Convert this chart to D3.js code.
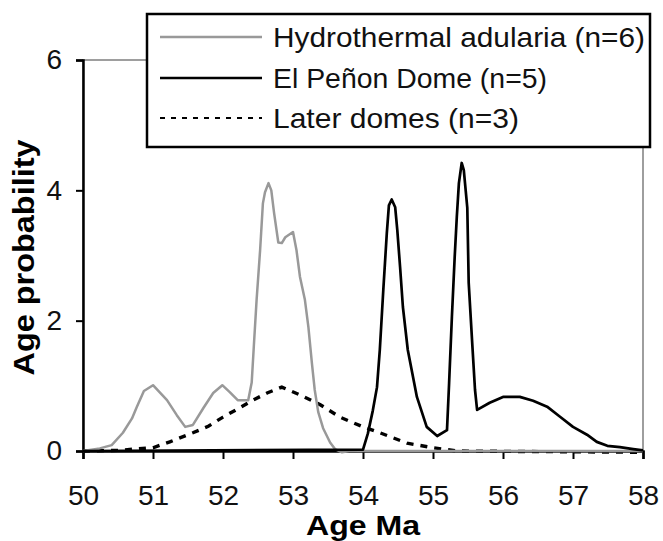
<!DOCTYPE html>
<html>
<head>
<meta charset="utf-8">
<script src="https://cdn.jsdelivr.net/npm/d3@7"></script>
<style>
  html, body { margin: 0; padding: 0; background: #fff; }
  svg { display: block; font-family: "Liberation Sans", Arial, sans-serif; }
</style>
</head>
<body>
<svg id="chart" width="663" height="541"></svg>
<script>
// x ticks / y ticks
const xTicks = [50, 51, 52, 53, 54, 55, 56, 57, 58];
const yTicks = [0, 2, 4, 6];

// Hydrothermal adularia (n=6) — [age Ma, probability]
const adularia = [
  [50.0, 0], [50.24, 0.04], [50.41, 0.09], [50.57, 0.28], [50.7, 0.5], [50.77, 0.68],
  [50.87, 0.92], [51.0, 1.01], [51.2, 0.78], [51.34, 0.55], [51.46, 0.37], [51.57, 0.4],
  [51.72, 0.66], [51.86, 0.89], [51.99, 1.01], [52.1, 0.9], [52.21, 0.78], [52.36, 0.78],
  [52.41, 1.05], [52.44, 1.6], [52.48, 2.32], [52.53, 3.08], [52.57, 3.8], [52.6, 3.97],
  [52.65, 4.11], [52.69, 4.0], [52.73, 3.65], [52.79, 3.2], [52.84, 3.19], [52.89, 3.28],
  [53.0, 3.36], [53.05, 3.08], [53.1, 2.67], [53.17, 2.32], [53.22, 1.9], [53.27, 1.35],
  [53.31, 0.94], [53.36, 0.6], [53.43, 0.35], [53.53, 0.13], [53.6, 0.03], [53.7, -0.02],
  [53.8, 0], [58.0, 0]
];

// El Peñon Dome (n=5)
const elPenon = [
  [50.0, 0], [54.0, 0.02], [54.07, 0.27], [54.14, 0.62], [54.2, 0.98], [54.24, 1.55],
  [54.29, 2.47], [54.34, 3.34], [54.37, 3.77], [54.41, 3.86], [54.46, 3.74], [54.49, 3.39],
  [54.53, 2.82], [54.57, 2.21], [54.64, 1.55], [54.77, 0.83], [54.91, 0.37], [55.06, 0.23],
  [55.2, 0.32], [55.23, 1.04], [55.27, 2.06], [55.31, 2.98], [55.34, 3.59], [55.37, 4.11],
  [55.41, 4.42], [55.44, 4.31], [55.49, 3.73], [55.51, 2.58], [55.56, 1.66], [55.6, 0.94],
  [55.63, 0.63], [55.81, 0.74], [56.0, 0.83], [56.24, 0.83], [56.43, 0.77], [56.63, 0.68],
  [56.81, 0.53], [57.0, 0.37], [57.2, 0.25], [57.34, 0.14], [57.49, 0.08], [57.67, 0.06],
  [57.86, 0.03], [58.0, 0.01]
];

// Later domes (n=3)
const laterDomes = [
  [50.0, 0], [50.5, 0.01], [51.0, 0.05], [51.24, 0.14], [51.57, 0.28], [51.79, 0.38],
  [52.0, 0.52], [52.2, 0.64], [52.41, 0.77], [52.63, 0.89], [52.84, 0.98], [53.1, 0.86],
  [53.39, 0.71], [53.67, 0.52], [54.0, 0.37], [54.24, 0.28], [54.63, 0.12], [55.0, 0.05],
  [55.34, 0.0], [58.0, -0.02]
];

const seriesNames = ["Hydrothermal adularia (n=6)", "El Peñon Dome (n=5)", "Later domes (n=3)"];

const svg = d3.select("#chart");
const x = d3.scaleLinear().domain([50, 58]).range([83, 643]);
const y = d3.scaleLinear().domain([0, 6]).range([451, 60]);

// plot area frame (gray, Excel style)
svg.append("rect")
  .attr("x", x(50)).attr("y", y(6))
  .attr("width", x(58) - x(50)).attr("height", y(0) - y(6))
  .attr("fill", "none").attr("stroke", "#9e9e9e").attr("stroke-width", 2);

// y axis
const yAxis = svg.append("g")
  .attr("transform", `translate(${x(50)},0)`)
  .call(d3.axisLeft(y).tickValues(yTicks).tickSize(7).tickPadding(14).tickFormat(d3.format("d")));
yAxis.select(".domain").attr("stroke", "#000").attr("stroke-width", 2.5);
yAxis.selectAll(".tick line").attr("stroke", "#000").attr("stroke-width", 2);
yAxis.selectAll("text")
  .attr("font-size", 28).attr("fill", "#111")
  .style("font-family", "Liberation Sans, Arial, sans-serif");

// x axis
const xAxis = svg.append("g")
  .attr("transform", `translate(0,${y(0)})`)
  .call(d3.axisBottom(x).tickValues(xTicks).tickSize(8).tickFormat(d3.format("d")));
xAxis.select(".domain").attr("stroke", "#000").attr("stroke-width", 2.5);
xAxis.selectAll(".tick line").attr("stroke", "#000").attr("stroke-width", 2);
xAxis.selectAll("text")
  .attr("y", 54).attr("dy", 0)
  .attr("font-size", 28).attr("fill", "#111")
  .style("font-family", "Liberation Sans, Arial, sans-serif");

// axis titles
svg.append("text")
  .attr("x", (x(50) + x(58)) / 2).attr("y", 535)
  .attr("text-anchor", "middle")
  .attr("font-size", 28).attr("font-weight", "bold")
  .attr("textLength", 114).attr("lengthAdjust", "spacingAndGlyphs")
  .text("Age Ma");

svg.append("text")
  .attr("transform", `translate(34,${(y(0) + y(6)) / 2 + 2}) rotate(-90)`)
  .attr("text-anchor", "middle")
  .attr("font-size", 29).attr("font-weight", "bold")
  .attr("textLength", 236).attr("lengthAdjust", "spacingAndGlyphs")
  .text("Age probability");

// lines
const line = d3.line().x(d => x(d[0])).y(d => y(d[1]));

svg.append("path").datum(laterDomes)
  .attr("d", line).attr("fill", "none")
  .attr("stroke", "#000").attr("stroke-width", 3.4)
  .attr("stroke-dasharray", "7,7");

svg.append("path").datum(adularia)
  .attr("d", line).attr("fill", "none")
  .attr("stroke", "#999").attr("stroke-width", 2.5)
  .attr("stroke-linejoin", "round");

svg.append("path").datum(elPenon)
  .attr("d", line).attr("fill", "none")
  .attr("stroke", "#000").attr("stroke-width", 2.7)
  .attr("stroke-linejoin", "round");

// legend
const legend = svg.append("g");
legend.append("rect")
  .attr("x", 147).attr("y", 14).attr("width", 503).attr("height", 133)
  .attr("fill", "#fff").attr("stroke", "#000").attr("stroke-width", 2.5);

const legendStyles = [
  { stroke: "#999", width: 2.5, dash: null, len: 372 },
  { stroke: "#000", width: 2.5, dash: null, len: 274 },
  { stroke: "#000", width: 2, dash: "5,6", len: 246 }
];
const legendRows = [47, 88, 128];

seriesNames.forEach((name, i) => {
  const s = legendStyles[i];
  legend.append("line")
    .attr("x1", 160).attr("x2", 262)
    .attr("y1", legendRows[i] - 10).attr("y2", legendRows[i] - 10)
    .attr("stroke", s.stroke).attr("stroke-width", s.width)
    .attr("stroke-dasharray", s.dash);
  legend.append("text")
    .attr("x", 273).attr("y", legendRows[i])
    .attr("font-size", 28).attr("fill", "#111")
    .attr("textLength", s.len).attr("lengthAdjust", "spacingAndGlyphs")
    .text(name);
});
</script>
</body>
</html>
